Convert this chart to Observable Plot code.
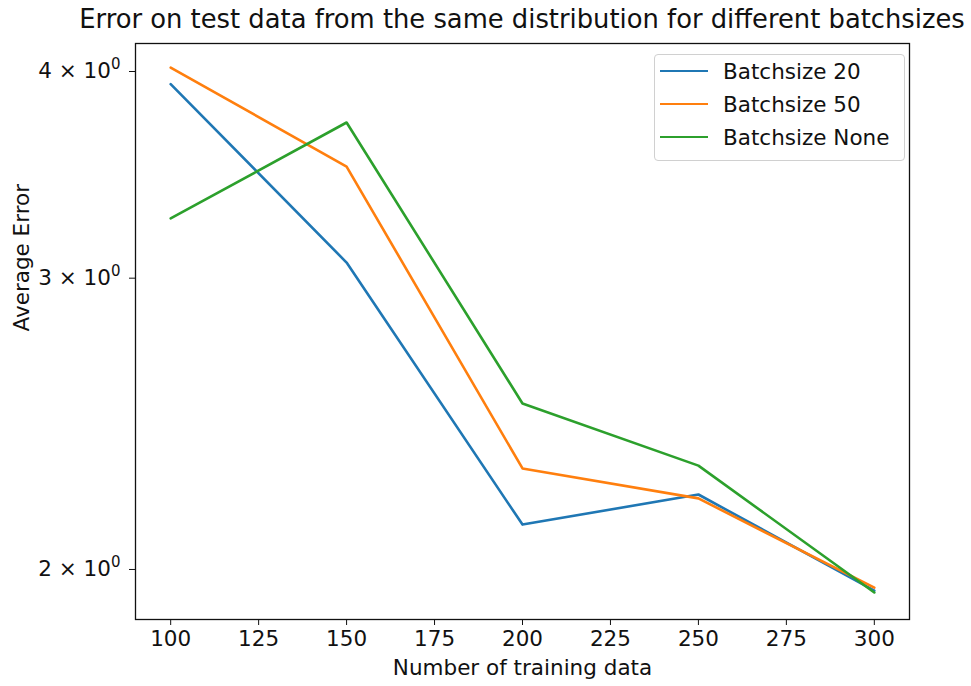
<!DOCTYPE html>
<html>
<head>
<meta charset="utf-8">
<script src="https://cdn.jsdelivr.net/npm/d3@7"></script>
<script src="https://cdn.jsdelivr.net/npm/@observablehq/plot@0.6"></script>
<style>
  body { margin: 0; background: #fff; }
  #wrap { position: relative; width: 971px; height: 686px; font-family: "DejaVu Sans", sans-serif; }
  #title { position: absolute; top: 4px; left: 0; width: 1044px; text-align: center; font-size: 25.8px; line-height: 30px; color: #111; white-space: nowrap; }
  #legend { position: absolute; left: 654px; top: 54px; width: 251px; height: 107px; box-sizing: border-box;
            border: 1px solid #d0d0d0; border-radius: 4px; background: rgba(255,255,255,0.8); }
  .item { position: absolute; left: 5px; height: 24px; display: flex; align-items: center; font-size: 21.5px; color: #111; white-space: nowrap; }
  .swatch { width: 48px; height: 0; border-top: 2.6px solid; margin-right: 15px; }
  svg { position: absolute; left: 0; top: 0; }
</style>
</head>
<body>
<div id="wrap">
  <div id="title">Error on test data from the same distribution for different batchsizes</div>
</div>
<script>
const trainingSizes = [100, 150, 200, 250, 300];
const seriesNames = ["Batchsize 20", "Batchsize 50", "Batchsize None"];
const errBatch20 = [3.93, 3.066, 2.129, 2.220, 1.942];
const errBatch50 = [4.022, 3.504, 2.302, 2.208, 1.950];
const errBatchNone = [3.260, 3.726, 2.520, 2.311, 1.937];
const seriesColors = ["#1f77b4", "#ff7f0e", "#2ca02c"];
const yTicks = [2, 3, 4];
const xTicks = [100, 125, 150, 175, 200, 225, 250, 275, 300];

const allSeries = [errBatch20, errBatch50, errBatchNone];
const data = [];
allSeries.forEach((vals, si) => {
  vals.forEach((v, i) => data.push({ n: trainingSizes[i], err: v, series: seriesNames[si] }));
});

const chart = Plot.plot({
  width: 971,
  height: 686,
  marginLeft: 135,
  marginRight: 62,
  marginTop: 43,
  marginBottom: 67,
  style: { fontFamily: "DejaVu Sans, sans-serif", fontSize: "21.5px", color: "#111", background: "transparent" },
  x: { domain: [90, 310], label: null },
  y: { type: "log", domain: [1.8655, 4.159], label: null },
  color: { domain: seriesNames, range: seriesColors },
  marks: [
    Plot.line(data, { x: "n", y: "err", z: "series", stroke: "series", strokeWidth: 2.6 }),
    Plot.frame({ stroke: "#111", strokeWidth: 1.3 }),
    Plot.axisX({ ticks: xTicks, tickSize: 6, tickPadding: 5, fontSize: 21.5, stroke: "#111", label: null }),
    Plot.axisY({ ticks: yTicks, tickSize: 6, tickPadding: 9, fontSize: 21.5,
                 tickFormat: d => d + " \u00d7 10^0", stroke: "#111", label: null }),
    Plot.text(["Number of training data"], { frameAnchor: "bottom", dy: 55, fontSize: 21.5, fill: "#111" }),
    Plot.text(["Average Error"], { frameAnchor: "left", dx: -113, rotate: -90, fontSize: 21.5, fill: "#111" })
  ]
});
const wrap = document.getElementById("wrap");
wrap.insertBefore(chart, wrap.firstChild);

// render the exponent as a real superscript
const ns = "http://www.w3.org/2000/svg";
chart.querySelectorAll('g[aria-label="y-axis tick label"] text').forEach(t => {
  const s = t.textContent;
  if (!s.includes("^")) return;
  const [base, exp] = s.split("^");
  t.textContent = "";
  const a = document.createElementNS(ns, "tspan");
  a.textContent = base;
  const b = document.createElementNS(ns, "tspan");
  b.textContent = exp;
  b.setAttribute("font-size", "15px");
  b.setAttribute("dy", "-9");
  t.appendChild(a);
  t.appendChild(b);
});

const legend = document.createElement("div");
legend.id = "legend";
seriesNames.forEach((name, i) => {
  const it = document.createElement("div");
  it.className = "item";
  it.style.top = (4 + i * 33) + "px";
  const sw = document.createElement("span");
  sw.className = "swatch";
  sw.style.borderTopColor = seriesColors[i];
  it.appendChild(sw);
  it.appendChild(document.createTextNode(name));
  legend.appendChild(it);
});
wrap.appendChild(legend);
</script>
</body>
</html>
